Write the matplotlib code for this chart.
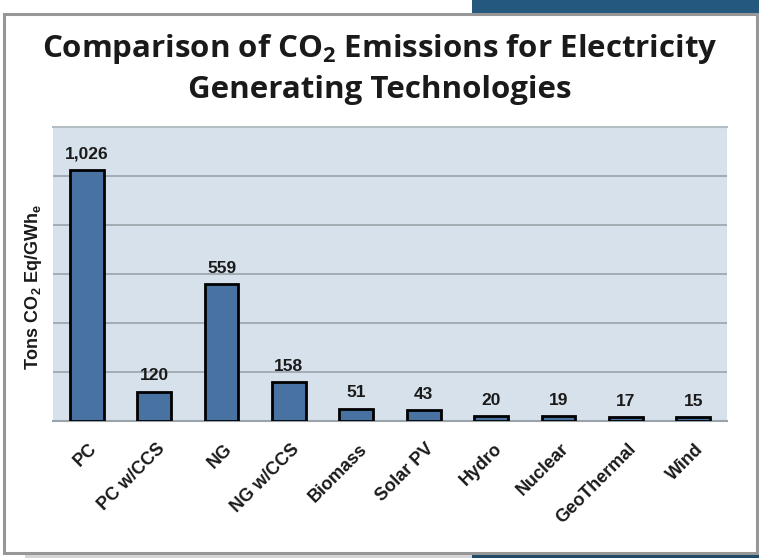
import matplotlib
matplotlib.use("Agg")
import matplotlib.pyplot as plt
import matplotlib.transforms as mtransforms
from matplotlib.patches import Rectangle

# Data
technologies = ["PC", "PC w/CCS", "NG", "NG w/CCS", "Biomass", "Solar PV",
                "Hydro", "Nuclear", "GeoThermal", "Wind"]
emissions = [1026, 120, 559, 158, 51, 43, 20, 19, 17, 15]
value_labels = ["1,026", "120", "559", "158", "51", "43", "20", "19", "17", "15"]

plt.rcParams["mathtext.fontset"] = "custom"
plt.rcParams["mathtext.sf"] = "Open Sans:bold"
plt.rcParams["mathtext.bf"] = "Liberation Sans:bold"

W, H = 759, 558
fig = plt.figure(figsize=(W / 100, H / 100), dpi=100)
fig.patch.set_facecolor("white")

# Frame decoration (dark strips, shadow, white box with border)
fig.patches.append(Rectangle((472 / W, (H - 14) / H), (W - 472) / W, 14 / H,
                             transform=fig.transFigure, facecolor="#25587e", edgecolor="none", zorder=0))
fig.patches.append(Rectangle((472 / W, 0), (W - 472) / W, 4 / H,
                             transform=fig.transFigure, facecolor="#1f4a68", edgecolor="none", zorder=0))
fig.patches.append(Rectangle((25 / W, 0), 447 / W, 5 / H,
                             transform=fig.transFigure, facecolor="#d6d6d6", edgecolor="none", zorder=0))
fig.patches.append(Rectangle((4 / W, 5 / H), 753 / W, 539 / H,
                             transform=fig.transFigure, facecolor="white", edgecolor="#979797",
                             linewidth=2.2, zorder=1))

# Title
fig.text(380 / W, 1 - 49 / H, r"Comparison of CO$_\mathsf{2}$ Emissions for Electricity",
         ha="center", va="center", fontsize=22.5, fontweight="bold",
         family="Open Sans", color="#1a1a1a", zorder=3)
fig.text(380 / W, 1 - 90 / H, "Generating Technologies",
         ha="center", va="center", fontsize=22.5, fontweight="bold",
         family="Open Sans", color="#1a1a1a", zorder=3)

# Plot
ax = fig.add_axes([53 / W, (H - 421) / H, 674 / W, 294 / H], zorder=2)
ax.set_facecolor("#d7e1eb")
x = range(len(technologies))
ax.bar(x, emissions, width=0.5, color="#4872a2", edgecolor="black", linewidth=2, zorder=3)
ax.set_xlim(-0.5, len(technologies) - 0.5)
ax.set_ylim(0, 1200)
ax.set_yticks([200, 400, 600, 800, 1000])
ax.set_yticklabels([])
ax.tick_params(axis="y", length=0)
ax.grid(axis="y", color="#9aa2aa", linewidth=1.2, zorder=1)
for s in ["left", "right"]:
    ax.spines[s].set_visible(False)
ax.spines["top"].set_color("#b4bcc4")
ax.spines["top"].set_linewidth(1.5)
ax.spines["bottom"].set_color("#9aa2aa")
ax.spines["bottom"].set_linewidth(1.5)

for i, v in enumerate(emissions):
    ax.annotate(value_labels[i], (i, v), xytext=(0, 6), textcoords="offset points",
                ha="center", va="bottom", fontsize=12.5, fontweight="bold",
                family="Liberation Sans", color="#1a1a1a")

ax.set_xticks(list(x))
ax.set_xticklabels(technologies, rotation=45, ha="right", rotation_mode="anchor",
                   fontsize=13, fontweight="bold",
                   family="Liberation Sans", color="#1a1a1a")
ax.tick_params(axis="x", length=0, pad=14)
shift = mtransforms.ScaledTranslation(2 / 100, 0, fig.dpi_scale_trans)
for lbl in ax.get_xticklabels():
    lbl.set_transform(lbl.get_transform() + shift)

ax.set_ylabel(r"Tons CO$_\mathbf{2}$ Eq/GWh$_\mathbf{e}$", fontsize=13, fontweight="bold",
              family="Liberation Sans", color="#1a1a1a")
ax.yaxis.set_label_coords(-0.014, 0.455)

fig.savefig("out.png", dpi=100, facecolor="white")
